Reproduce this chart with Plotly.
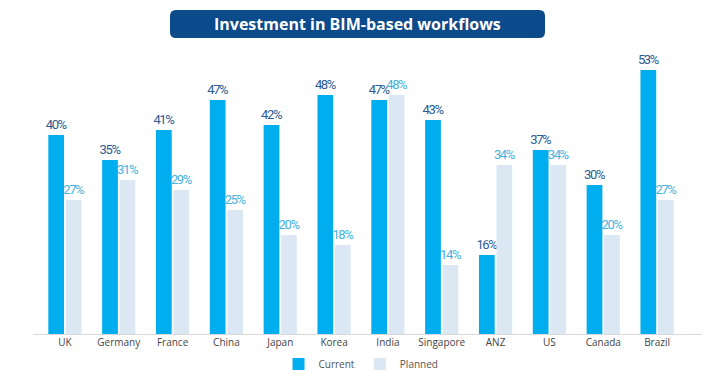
import plotly.graph_objects as go

countries = ["UK", "Germany", "France", "China", "Japan", "Korea", "India",
             "Singapore", "ANZ", "US", "Canada", "Brazil"]
current = [40, 35, 41, 47, 42, 48, 47, 43, 16, 37, 30, 53]
planned = [27, 31, 29, 25, 20, 18, 48, 14, 34, 34, 20, 27]

label_font = "Roboto, sans-serif"


def lab(v):
    return f'<span style="letter-spacing:-1.4px">{v}%</span>'


fig = go.Figure()
fig.add_trace(go.Bar(
    name="Current", x=countries, y=current,
    marker=dict(color="#00aeef", line=dict(width=0)),
    text=[lab(v) for v in current], textposition="outside",
    textfont=dict(family=label_font, size=13, color="#2b5c92"),
    constraintext="none", cliponaxis=False,
))
fig.add_trace(go.Bar(
    name="Planned", x=countries, y=planned,
    marker=dict(color="#dbe8f4", line=dict(width=0)),
    text=[lab(v) for v in planned], textposition="outside",
    textfont=dict(family=label_font, size=13, color="#46b2de"),
    constraintext="none", cliponaxis=False,
))

L, R, T, B = 38, 26, 65, 40
W, H = 710, 375
pw, ph = W - L - R, H - T - B

def px_x(p):
    return (p - L) / pw

def px_y(p):
    return (H - B - p) / ph

# rounded title box
x0, x1 = px_x(170), px_x(545)
y0, y1 = px_y(38), px_y(10)
rx, ry = 6 / pw, 6 / ph
path = (f"M {x0+rx},{y0} L {x1-rx},{y0} Q {x1},{y0} {x1},{y0+ry} "
        f"L {x1},{y1-ry} Q {x1},{y1} {x1-rx},{y1} L {x0+rx},{y1} "
        f"Q {x0},{y1} {x0},{y1-ry} L {x0},{y0+ry} Q {x0},{y0} {x0+rx},{y0} Z")
fig.add_shape(type="path", path=path, xref="paper", yref="paper",
              fillcolor="#0b4a8b", line=dict(width=0), layer="above")
fig.add_annotation(text="<b>Investment in BIM-based workflows</b>",
                   x=(x0 + x1) / 2, y=(y0 + y1) / 2, xref="paper", yref="paper",
                   showarrow=False, xanchor="center", yanchor="middle",
                   font=dict(family="Open Sans, sans-serif", size=16, color="white"))

# baseline
fig.add_shape(type="line", xref="paper", yref="y", x0=px_x(33), x1=px_x(702),
              y0=0, y1=0, line=dict(color="#d9d9d9", width=2), layer="above")

fig.update_layout(
    width=W, height=H,
    margin=dict(l=L, r=R, t=T, b=B, autoexpand=False),
    paper_bgcolor="white", plot_bgcolor="white",
    barmode="group", bargap=0.35, bargroupgap=0.1,
    showlegend=True,
    legend=dict(orientation="h", x=0.5, xanchor="center",
                y=px_y(364), yanchor="middle",
                font=dict(family="Open Sans, sans-serif", size=10, color="#555"),
                itemwidth=30),
    xaxis=dict(showgrid=False, showline=False, ticks="", ticklen=6,
               tickfont=dict(family="Open Sans, sans-serif", size=10, color="#444")),
    yaxis=dict(range=[0, 54], showgrid=False, showticklabels=False,
               zeroline=False, showline=False),
)

fig.write_html("out.html", config={"displayModeBar": False},
               post_script="document.body.style.margin='0';"
                           "document.body.style.overflow='hidden';")
